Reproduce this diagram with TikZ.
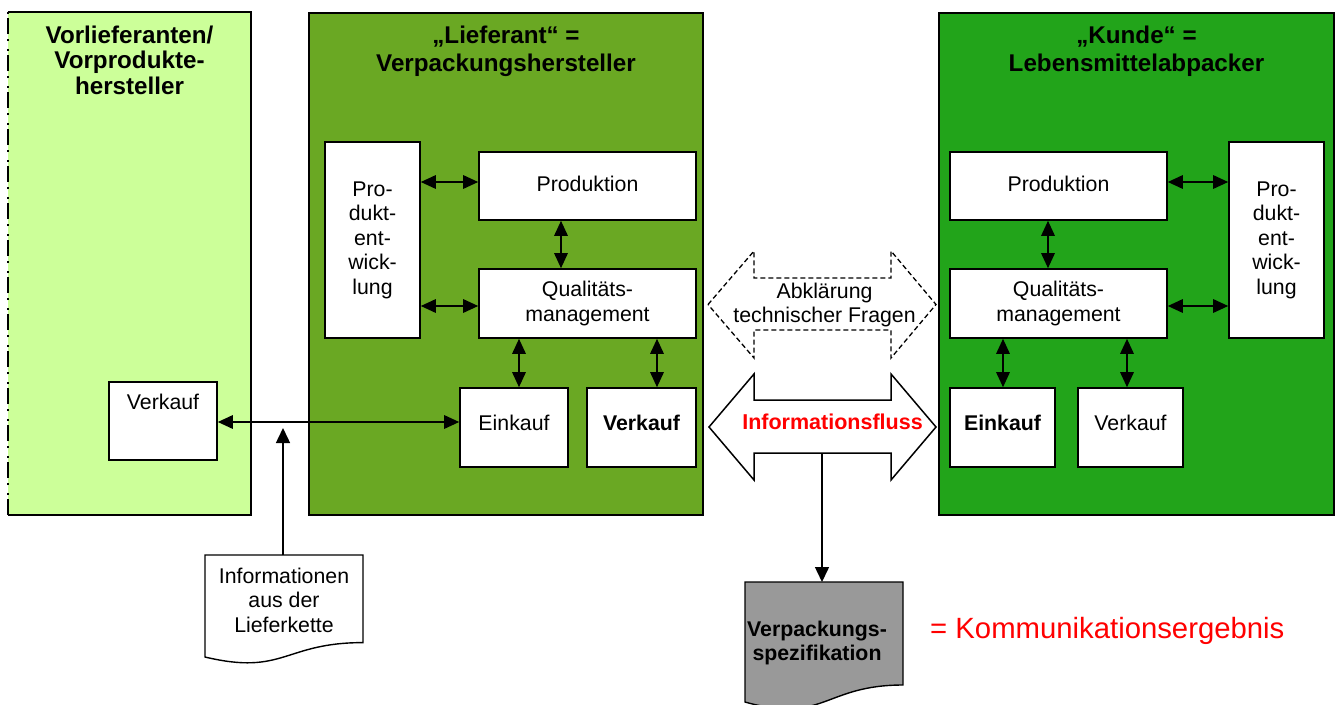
\documentclass[tikz,border=0pt]{standalone}
\usepackage{fontspec}
\setmainfont{Liberation Sans}
\usetikzlibrary{arrows.meta}
\definecolor{lightgr}{HTML}{CCFF99}
\definecolor{midgr}{HTML}{6AA823}
\definecolor{darkgr}{HTML}{22A41A}
\definecolor{docgray}{HTML}{999999}
\newcommand\myfa{\fontsize{21.3}{24.5}\selectfont}
\newcommand\myfb{\fontsize{24.2}{28.5}\selectfont\bfseries}
\begin{document}
\begin{tikzpicture}[x=1pt,y=-1pt,
  panel/.style={draw, line width=1.6pt, inner sep=0pt},
  ttl/.style={anchor=north, inner sep=0pt, align=center, font=\myfb},
  ibox/.style={draw, fill=white, line width=1.6pt, inner sep=0pt, align=center, font=\myfa},
  lowtxt/.style={text height=15pt, text depth=10pt},
  prodtxt/.style={text height=15pt, text depth=5pt},
  dbl/.style={{Triangle[length=15pt,width=13.5pt]}-{Triangle[length=15pt,width=13.5pt]}, line width=1.5pt},
  sgl/.style={-{Triangle[length=15pt,width=14pt]}, line width=1.5pt},
  doc/.style={draw, line width=1.4pt},
  plain/.style={inner sep=0pt, align=center, font=\myfa}
]
\useasboundingbox (0,0) rectangle (1335,704);

% panels
\node[inner sep=0pt, fill=lightgr, minimum width=243pt, minimum height=503pt] (lp) at (129.5,263.5) {};
\draw[line width=1.6pt] (lp.north west) -- (lp.north east) -- (lp.south east) -- (lp.south west);
\draw[line width=1.8pt, dash pattern=on 16pt off 4pt on 2pt off 8pt on 2pt off 5pt] (lp.south west) -- (lp.north west);
\node[panel, fill=midgr, minimum width=394pt, minimum height=502pt] (mp) at (506,264) {};
\node[panel, fill=darkgr, minimum width=395pt, minimum height=502pt] (rp) at (1136.5,264) {};

% titles
\node[ttl, font=\fontsize{24.2}{25.5}\selectfont\bfseries] (lt) at (129.5,25.5) {Vorlieferanten/\\Vorprodukte-\\hersteller};
\node[ttl] (mt) at (506,25.5) {„Lieferant“ =\\Verpackungshersteller};
\node[ttl] (rt) at (1136.5,25.5) {„Kunde“ =\\Lebensmittelabpacker};

% left panel box
\node[ibox, minimum width=108pt, minimum height=78pt, text height=15pt, text depth=39pt] (ver0) at (163,421) {Verkauf};

% middle panel boxes
\node[ibox, minimum width=95pt, minimum height=196pt] (pe1) at (372.5,240) {Pro-\\dukt-\\ent-\\wick-\\lung};
\node[ibox, prodtxt, minimum width=217pt, minimum height=68pt] (prod1) at (587.5,186) {Produktion};
\node[ibox, minimum width=217pt, minimum height=69pt] (qm1) at (587.5,303.5) {Qualitäts-\\management};
\node[ibox, lowtxt, minimum width=108pt, minimum height=79pt] (ein1) at (514,427.5) {Einkauf};
\node[ibox, lowtxt, minimum width=109pt, minimum height=79pt, font=\myfa\bfseries] (ver1) at (641.5,427.5) {Verkauf};

% right panel boxes
\node[ibox, prodtxt, minimum width=217pt, minimum height=68pt] (prod2) at (1058.5,186) {Produktion};
\node[ibox, minimum width=217pt, minimum height=69pt] (qm2) at (1058.5,303.5) {Qualitäts-\\management};
\node[ibox, minimum width=95pt, minimum height=196pt] (pe2) at (1276.5,240) {Pro-\\dukt-\\ent-\\wick-\\lung};
\node[ibox, lowtxt, minimum width=105pt, minimum height=79pt, font=\myfa\bfseries] (ein2) at (1002.5,427.5) {Einkauf};
\node[ibox, lowtxt, minimum width=105pt, minimum height=79pt] (ver2) at (1130.5,427.5) {Verkauf};

% internal arrows, middle
\draw[dbl] (pe1.east |- 0,182) -- (prod1.west |- 0,182);
\draw[dbl] (pe1.east |- 0,306) -- (qm1.west |- 0,306);
\draw[dbl] (prod1.south -| 561,0) -- (qm1.north -| 561,0);
\draw[dbl] (qm1.south -| 519,0) -- (ein1.north -| 519,0);
\draw[dbl] (qm1.south -| 657,0) -- (ver1.north -| 657,0);

% internal arrows, right
\draw[dbl] (prod2.east |- 0,182) -- (pe2.west |- 0,182);
\draw[dbl] (qm2.east |- 0,306) -- (pe2.west |- 0,306);
\draw[dbl] (prod2.south -| 1048,0) -- (qm2.north -| 1048,0);
\draw[dbl] (qm2.south -| 1003,0) -- (ein2.north -| 1003,0);
\draw[dbl] (qm2.south -| 1127,0) -- (ver2.north -| 1127,0);

% supply chain link
\draw[dbl] (ver0.east |- 0,422) -- (ein1.west |- 0,422);

% information document
\draw[doc, fill=white] (205,555) -- (363,555) -- (363,642.6) .. controls (284,642.6) and (284,675.9) .. (205,657) -- cycle;
\node[plain] (info) at (284,600) {Informationen\\aus der\\Lieferkette};
\coordinate (itop) at (283,555);
\coordinate (itip) at (283,428);
\draw[sgl] (itop) -- (itip);

% dashed double arrow
\draw[line width=1.3pt, dash pattern=on 5pt off 3pt] (708,304.5) -- (754,251) -- (754,278) -- (891,278) -- (891,251) -- (936,304.5) -- (891,358) -- (891,330) -- (754,330) -- (754,358) -- cycle;
\node[plain] (abkl) at (824.5,305) {Abklärung\\technischer Fragen};

% information flow arrow
\draw[line width=1.5pt, fill=white] (709,427) -- (754,374) -- (754,400) -- (891,400) -- (891,374) -- (936,427) -- (891,480) -- (891,453) -- (754,453) -- (754,480) -- cycle;
\node[plain, font=\fontsize{21.5}{24}\selectfont\bfseries, text=red] (flow) at (832.5,422.3) {Informationsfluss};
\coordinate (flowbot) at (822,453);

% specification document
\draw[doc, fill=docgray] (745,582) -- (903,582) -- (903,685) .. controls (824,685) and (824,724.3) .. (745,702) -- cycle;
\coordinate (spectop) at (822,582);
\draw[sgl] (flowbot) -- (spectop);
\node[plain, font=\fontsize{21.3}{23.5}\selectfont\bfseries] (spec) at (817,643) {Verpackungs-\\spezifikation};

% result label
\node[inner sep=0pt, anchor=base west, text=red, font=\fontsize{29.3}{31}\selectfont] (res) at (930,638) {= Kommunikationsergebnis};
\end{tikzpicture}
\end{document}
